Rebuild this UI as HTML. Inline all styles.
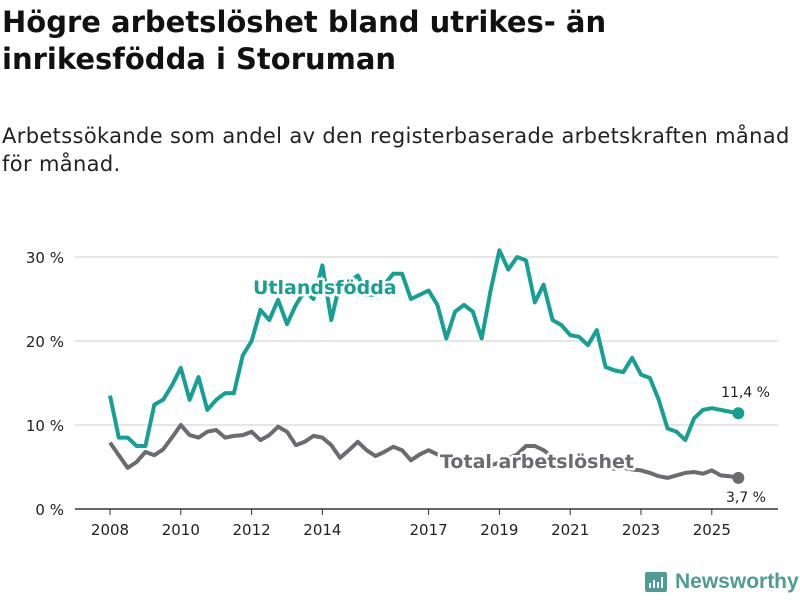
<!DOCTYPE html>
<html><head><meta charset="utf-8"><style>
body{margin:0;width:800px;height:600px;background:#fff;font-family:"DejaVu Sans","Liberation Sans",sans-serif;overflow:hidden;position:relative}
h1{position:absolute;left:2px;top:4px;margin:0;font-size:29px;line-height:37px;font-weight:bold;color:#111;width:798px;white-space:nowrap}
.sub{position:absolute;left:2px;top:122px;margin:0;font-size:21px;line-height:28px;color:#222;width:798px;white-space:nowrap;letter-spacing:0.35px}
svg{position:absolute;left:0;top:0}
</style></head><body>
<h1>Högre arbetslöshet bland utrikes- än<br>inrikesfödda i Storuman</h1>
<p class="sub">Arbetssökande som andel av den registerbaserade arbetskraften månad<br>för månad.</p>
<svg id="chart" width="800" height="600"></svg>
<div style="position:absolute;left:645px;top:570px;display:flex;align-items:center;gap:8px">
<div style="width:22px;height:20px;background:#4f9c94;border-radius:2px;position:relative"><div style="position:absolute;left:4px;bottom:4px;width:2px;height:5px;background:#fff"></div><div style="position:absolute;left:8px;bottom:4px;width:2px;height:8px;background:#fff"></div><div style="position:absolute;left:12px;bottom:4px;width:2px;height:6px;background:#fff"></div><div style="position:absolute;left:16px;bottom:4px;width:2px;height:11px;background:#fff"></div></div>
<span style="font-family:'Liberation Sans',sans-serif;font-size:21px;color:#4f9c94;font-weight:bold">Newsworthy</span></div>
<script>
const years=[2008,2010,2012,2014,2017,2019,2021,2023,2025];
const yTicks=[0,10,20,30];
const yTickLabels=["0 %","10 %","20 %","30 %"];
const startYear=2008;
const utlandsfodda=[13.5,8.5,8.5,7.5,7.5,12.4,13,14.7,16.8,13,15.7,11.8,13,13.8,13.8,18.3,20,23.7,22.5,24.9,22,24.3,26,25,29,22.5,27,27,27.8,25.5,25.5,26.7,28,28,25,25.5,26,24.3,20.3,23.5,24.3,23.5,20.3,26,30.8,28.5,30,29.6,24.6,26.7,22.5,21.9,20.7,20.5,19.5,21.3,16.9,16.5,16.3,18,16,15.6,13,9.6,9.2,8.2,10.8,11.8,12,11.8,11.6,11.4];
const total=[7.9,6.4,4.9,5.6,6.8,6.4,7.1,8.5,10,8.8,8.5,9.2,9.4,8.5,8.7,8.8,9.2,8.2,8.8,9.8,9.2,7.6,8,8.7,8.5,7.6,6.1,7,8,7,6.3,6.8,7.4,7,5.8,6.5,7,6.5,6,5.8,5.5,5.2,5,5.2,5.5,6,6.5,7.5,7.5,7,6.2,5.8,5.5,5.2,5,5.1,5,4.8,4.9,4.7,4.6,4.3,3.9,3.7,4,4.3,4.4,4.2,4.6,4,3.9,3.7];
const ns="http://www.w3.org/2000/svg";
const svg=document.getElementById('chart');
const X=t=>110+(t-2008)*35.4;
const Y=v=>509-v*8.4;
function mk(tag,attrs){const e=document.createElementNS(ns,tag);for(const k in attrs)e.setAttribute(k,attrs[k]);svg.appendChild(e);return e;}
yTicks.forEach((v,i)=>{
 const g=mk('line',{x1:75,x2:778,y1:Y(v),y2:Y(v),stroke:v===0?'#333':'#ddd','stroke-width':1.5});
 
 
 const t=mk('text',{x:64,y:Y(v)+6,'text-anchor':'end','font-size':15,fill:'#222'});t.textContent=yTickLabels[i];
 
 
});
years.forEach(y=>{
 const l=mk('line',{x1:X(y),x2:X(y),y1:509,y2:515,stroke:'#333','stroke-width':1});
 
 
 const t=mk('text',{x:X(y),y:535,'text-anchor':'middle','font-size':15,fill:'#222'});t.textContent=y;
 
 
});
function series(arr,color,name){
 const d=arr.map((v,i)=>(i?'L':'M')+X(startYear+i*0.25).toFixed(1)+','+Y(v).toFixed(1)).join('');
 const p=mk('path',{d:d,fill:'none',stroke:color,'stroke-width':4,'stroke-linejoin':'round'});
 
 
 const last=arr.length-1;
 const c=mk('circle',{cx:X(startYear+last*0.25),cy:Y(arr[last]),r:6,fill:color});
 
 
}
series(total,'#6b6b70','total-line');
series(utlandsfodda,'#16a095','utlandsfodda-line');
function label(txt,x,y,color,size,weight,anchor,name){
 const t=mk('text',{x:x,y:y,fill:color,'font-size':size,'font-weight':weight,'text-anchor':anchor,stroke:'#fff','stroke-width':5,'paint-order':'stroke','stroke-linejoin':'round'});
 t.textContent=txt;
 
 
}
label('Utlandsfödda',253,294,'#16a095',19,'bold','start','utlandsfodda-label');
label('Total arbetslöshet',440,468,'#6b6b70',19,'bold','start','total-label');
label('11,4 %',770,397,'#222',14,'normal','end','utlandsfodda-value-label');
label('3,7 %',766,502,'#222',14,'normal','end','total-value-label');
</script>
</body></html>
